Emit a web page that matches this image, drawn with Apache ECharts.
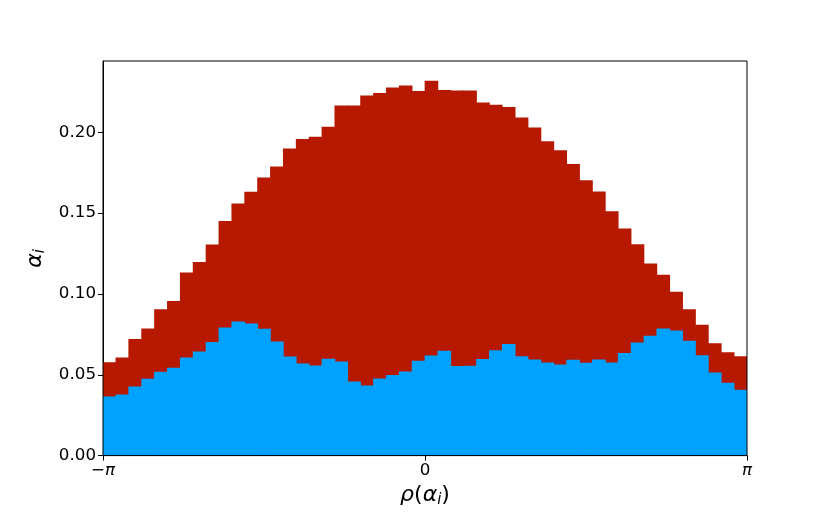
<!DOCTYPE html>
<html>
<head>
<meta charset="utf-8">
<script src="https://cdn.jsdelivr.net/npm/echarts@6/dist/echarts.min.js"></script>
<style>html,body{margin:0;padding:0;background:#fff}#c{width:830px;height:513px}</style>
</head>
<body>
<div id="c"></div>
<script>
// 50 histogram bins from -pi to pi
const binIndex = Array.from({length: 50}, (_, i) => i);
const redValues = [0.0578,0.0607,0.0722,0.0786,0.0905,0.0957,0.1132,0.1198,0.1306,0.1451,
  0.1560,0.1632,0.1720,0.1788,0.1899,0.1959,0.1972,0.2035,0.2166,0.2166,
  0.2228,0.2243,0.2277,0.2290,0.2255,0.2319,0.2261,0.2258,0.2259,0.2185,
  0.2170,0.2156,0.2091,0.2029,0.1944,0.1889,0.1804,0.1704,0.1634,0.1512,
  0.1405,0.1308,0.1189,0.1119,0.1014,0.0905,0.0809,0.0695,0.0640,0.0615];
const blueValues = [0.0366,0.0378,0.0428,0.0475,0.0519,0.0543,0.0607,0.0644,0.0702,0.0792,
  0.0829,0.0817,0.0784,0.0706,0.0613,0.0570,0.0558,0.0599,0.0582,0.0459,
  0.0434,0.0477,0.0498,0.0520,0.0586,0.0619,0.0648,0.0554,0.0556,0.0597,
  0.0652,0.0691,0.0615,0.0595,0.0576,0.0564,0.0593,0.0574,0.0595,0.0576,
  0.0634,0.0700,0.0741,0.0786,0.0774,0.0710,0.0621,0.0514,0.0451,0.0407];
const yTicks = [0, 0.05, 0.10, 0.15, 0.20];
const xTicks = [-Math.PI, 0, Math.PI];
const xTickLabels = ['{n|\u2212}{i|π}', '{n|0}', '{i|π}'];

const FONT = 'DejaVu Sans';
const RED = '#b61900';
const BLUE = '#00a2ff';
const chart = echarts.init(document.getElementById('c'), null, {renderer: 'canvas'});
chart.setOption({
  animation: false,
  backgroundColor: '#fff',
  grid: {left: 103, right: 83, top: 61, bottom: 57, show: true, borderColor: '#000', borderWidth: 1, backgroundColor: 'transparent', z: 10},
  xAxis: [
    {type: 'category', data: binIndex, boundaryGap: true, show: false},
    {type: 'value', min: -Math.PI, max: Math.PI, position: 'bottom',
     axisLine: {show: true, onZero: false, lineStyle: {color: '#000', width: 1}},
     splitLine: {show: false},
     axisTick: {show: true, length: 5, customValues: xTicks, lineStyle: {color: '#000'}},
     axisLabel: {show: true, customValues: xTicks, margin: 7,
       formatter: function (v) {
         const k = xTicks.findIndex(t => Math.abs(t - v) < 1e-6);
         return k >= 0 ? xTickLabels[k] : '';
       },
       rich: {
         n: {fontFamily: FONT, fontSize: 16.7, color: '#000'},
         i: {fontFamily: FONT, fontSize: 16.7, fontStyle: 'italic', color: '#000'}
       }},
     name: '{g|ρ}{n|(}{g|α}{s|i}{n|)}', nameLocation: 'middle', nameGap: 26,
     nameTextStyle: {
       rich: {
         g: {fontFamily: FONT, fontSize: 22, fontStyle: 'italic', color: '#000'},
         n: {fontFamily: FONT, fontSize: 22, color: '#000'},
         s: {fontFamily: FONT, fontSize: 15, fontStyle: 'italic', color: '#000', padding: [10, 0, 0, 0]}
       }
     }}
  ],
  yAxis: {
    type: 'value', min: 0, max: 0.2441,
    axisLine: {show: true, onZero: false, lineStyle: {color: '#000', width: 1}},
    splitLine: {show: false},
    axisTick: {show: true, length: 5, customValues: yTicks, lineStyle: {color: '#000'}},
    axisLabel: {show: true, customValues: yTicks, margin: 7, fontFamily: FONT, fontSize: 16.7, color: '#000',
      formatter: v => v.toFixed(2)},
    name: '{g|α}{s|i}', nameLocation: 'middle', nameGap: 55, nameRotate: 90,
    nameTextStyle: {
      rich: {
        g: {fontFamily: FONT, fontSize: 22, fontStyle: 'italic', color: '#000'},
        s: {fontFamily: FONT, fontSize: 15, fontStyle: 'italic', color: '#000', padding: [10, 0, 0, 0]}
      }
    }
  },
  series: [
    {type: 'bar', name: 'red', xAxisIndex: 0, data: redValues, barWidth: 13.6, barGap: '-100%',
     itemStyle: {color: RED, borderWidth: 0}},
    {type: 'bar', name: 'blue', xAxisIndex: 0, data: blueValues, barWidth: 13.6, barGap: '-100%',
     itemStyle: {color: BLUE, borderWidth: 0}}
  ]
});
</script>
</body>
</html>
